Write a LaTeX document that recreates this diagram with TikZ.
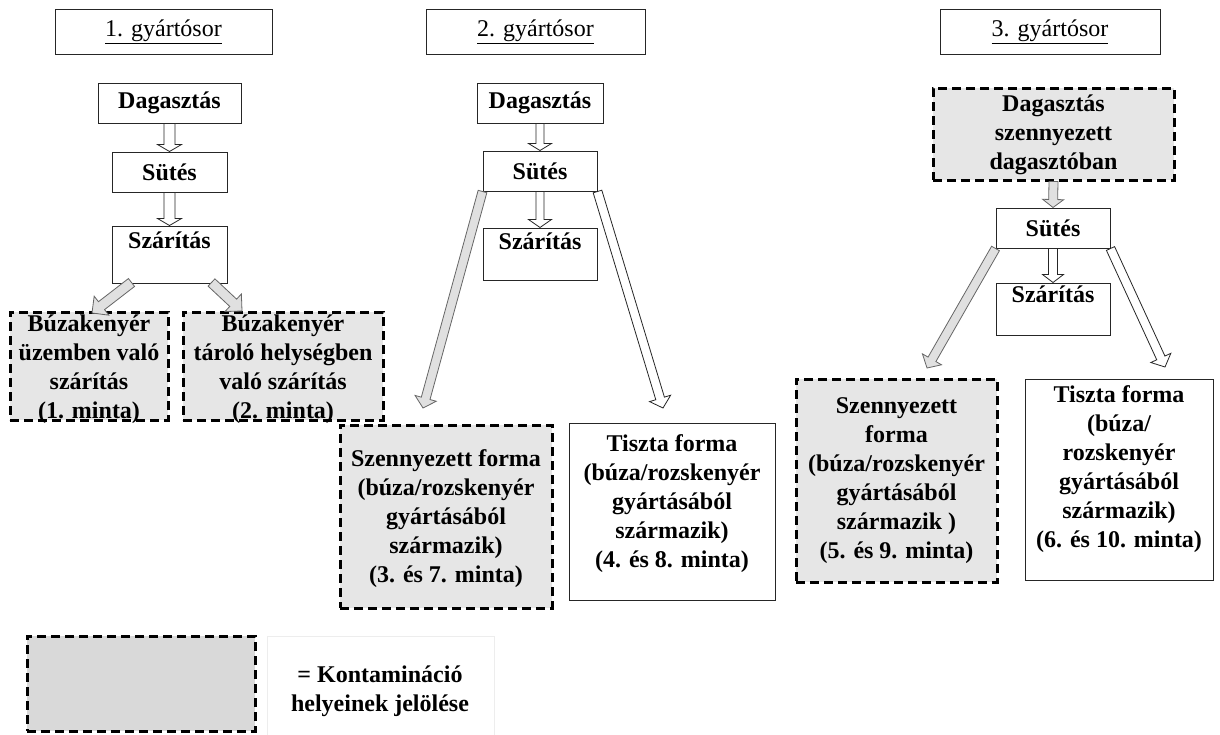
\documentclass[tikz,border=0pt]{standalone}
\usepackage{fontspec}
\setmainfont{Liberation Serif}
\usetikzlibrary{calc}
\definecolor{contam}{HTML}{E6E6E6}
\definecolor{legfill}{HTML}{D9D9D9}
\definecolor{arrgray}{HTML}{E0E0E0}
\tikzset{
  solidbox/.style={draw=black!85, line width=1pt, fill=white, inner sep=0pt},
  dashbox/.style={draw=black, line width=3pt, dash pattern=on 9pt off 5pt, fill=contam, inner sep=0pt},
  legbox/.style={dashbox, fill=legfill},
  lightbox/.style={draw=black!7, line width=0.8pt, fill=white, inner sep=0pt},
  txt/.style={font=\fontsize{24}{29}\selectfont\bfseries, align=center, inner sep=0pt},
  headtxt/.style={font=\fontsize{24}{29}\selectfont, inner sep=0pt},
  whitearrow/.style={draw=black!85, line width=0.8pt, fill=white},
  grayarrow/.style={draw=black!60, line width=0.8pt, fill=arrgray},
}
% box: style, x1, y1, x2, y2, name
\newcommand\rbox[6]{\node[#1, minimum width={(#4-#2)*1pt}, minimum height={(#5-#3)*1pt}] (#6) at ({(#2+#4)/2},{(#3+#5)/2}) {};}
% block arrow: [style]{from}{to}{shaft half width}{head half width}{head length}
\newcommand\barrow[6][]{%
  \draw[#1] let \p1=(#2), \p2=(#3),
    \n1={atan2(\y2-\y1,\x2-\x1)},
    \n2={veclen(\x2-\x1,\y2-\y1)-#6} in
    ($(\p1)+(\n1+90:#4pt)$) -- ($(\p1)+(\n1:\n2)+(\n1+90:#4pt)$) --
    ($(\p1)+(\n1:\n2)+(\n1+90:#5pt)$) -- (\p2) --
    ($(\p1)+(\n1:\n2)+(\n1-90:#5pt)$) -- ($(\p1)+(\n1:\n2)+(\n1-90:#4pt)$) --
    ($(\p1)+(\n1-90:#4pt)$) -- cycle;}
\begin{document}
\begin{tikzpicture}[x=1pt,y=-1pt]
\useasboundingbox (0,0) rectangle (1220,734);
\fill[white] (0,0) rectangle (1220,734);

% headers
\rbox{solidbox}{55}{9}{272}{54}{h1}
\rbox{solidbox}{426}{9}{645}{54}{h2}
\rbox{solidbox}{940}{9}{1160}{54}{h3}
\node[headtxt] (h1t) at (h1) {\underline{1. gyártósor}};
\node[headtxt] (h2t) at (h2) {\underline{2. gyártósor}};
\node[headtxt] (h3t) at (h3) {\underline{3. gyártósor}};

% column 1
\rbox{solidbox}{98}{83}{241}{123}{d1}
\rbox{solidbox}{112}{152}{227}{192}{s1}
\rbox{solidbox}{112}{226}{227}{283}{sz1}
\rbox{dashbox}{10}{312}{168}{420}{b1}
\rbox{dashbox}{183}{312}{383}{420}{b2}

% column 2
\rbox{solidbox}{477}{83}{603}{123}{d2}
\rbox{solidbox}{483}{151}{597}{191}{s2}
\rbox{solidbox}{483}{228}{597}{280}{sz2}
\rbox{dashbox}{340}{425}{552}{608}{c2}
\rbox{solidbox}{569}{423}{775}{600}{t2}

% column 3
\rbox{dashbox}{933}{88}{1174}{180}{d3}
\rbox{solidbox}{996}{208}{1110}{248}{s3}
\rbox{solidbox}{996}{283}{1110}{335}{sz3}
\rbox{dashbox}{796}{379}{997}{582}{c3}
\rbox{solidbox}{1025}{379}{1213}{580}{t3}

% legend
\rbox{legbox}{27}{636}{255}{731}{lg}
\rbox{lightbox}{267}{636}{494}{745}{lt}

% texts
\node[txt] (d1t) at (d1) {Dagasztás};
\node[txt] (s1t) at (s1) {Sütés};
\node[txt] (sz1t) at (169.5,240) {Szárítás};
\node[txt] (b1t) at (89,369) {Búzakenyér\\üzemben való\\szárítás\\(1. minta)};
\node[txt] (b2t) at (283,369) {Búzakenyér\\tároló helységben\\való szárítás\\(2. minta)};

\node[txt] (d2t) at (d2) {Dagasztás};
\node[txt] (s2t) at (s2) {Sütés};
\node[txt] (sz2t) at (540,241) {Szárítás};
\node[txt] (c2t) at (446,519) {Szennyezett forma\\(búza/rozskenyér\\gyártásából\\származik)\\(3. és 7. minta)};
\node[txt] (t2t) at (672,504) {Tiszta forma\\(búza/rozskenyér\\gyártásából\\származik)\\(4. és 8. minta)};

\node[txt] (d3t) at (1053.5,135) {Dagasztás\\szennyezett\\dagasztóban};
\node[txt] (s3t) at (s3) {Sütés};
\node[txt] (sz3t) at (1053,294) {Szárítás};
\node[txt] (c3t) at (896.5,481) {Szennyezett\\forma\\(búza/rozskenyér\\gyártásából\\származik )\\(5. és 9. minta)};
\node[txt] (t3t) at (1119,469) {Tiszta forma\\(búza/\\rozskenyér\\gyártásából\\származik)\\(6. és 10. minta)};

\node[txt] (ltt) at (380,691) {= Kontamináció\\helyeinek jelölése};

% arrow tips
\coordinate (tip1l) at (92,313);
\coordinate (tip1r) at (242,311);
\coordinate (tip2l) at (423,408);
\coordinate (tip2r) at (663,408);
\coordinate (tip3l) at (927,368);
\coordinate (tip3r) at (1165,367);

% arrows column 1
\barrow[whitearrow]{d1.south}{s1.north}{5.5}{12}{7}
\barrow[whitearrow]{s1.south}{sz1.north}{5.5}{12}{7}
\barrow[grayarrow]{$(sz1.south)+(-38,-1)$}{tip1l}{5}{12}{12}
\barrow[grayarrow]{$(sz1.south)+(42,-1)$}{tip1r}{5}{12}{12}

% arrows column 2
\barrow[whitearrow]{d2.south}{s2.north}{4}{11.5}{7}
\barrow[whitearrow]{s2.south}{sz2.north}{4}{11.5}{8}
\barrow[grayarrow]{s2.south west}{tip2l}{4.5}{11}{10}
\barrow[whitearrow]{s2.south east}{tip2r}{4.5}{11}{10}

% arrows column 3
\barrow[grayarrow]{d3.south}{s3.north}{4.5}{10.5}{8}
\barrow[whitearrow]{s3.south}{sz3.north}{4.5}{10.5}{8}
\barrow[grayarrow]{s3.south west}{tip3l}{4.5}{11}{10}
\barrow[whitearrow]{s3.south east}{tip3r}{4.5}{11}{10}
\end{tikzpicture}
\end{document}
